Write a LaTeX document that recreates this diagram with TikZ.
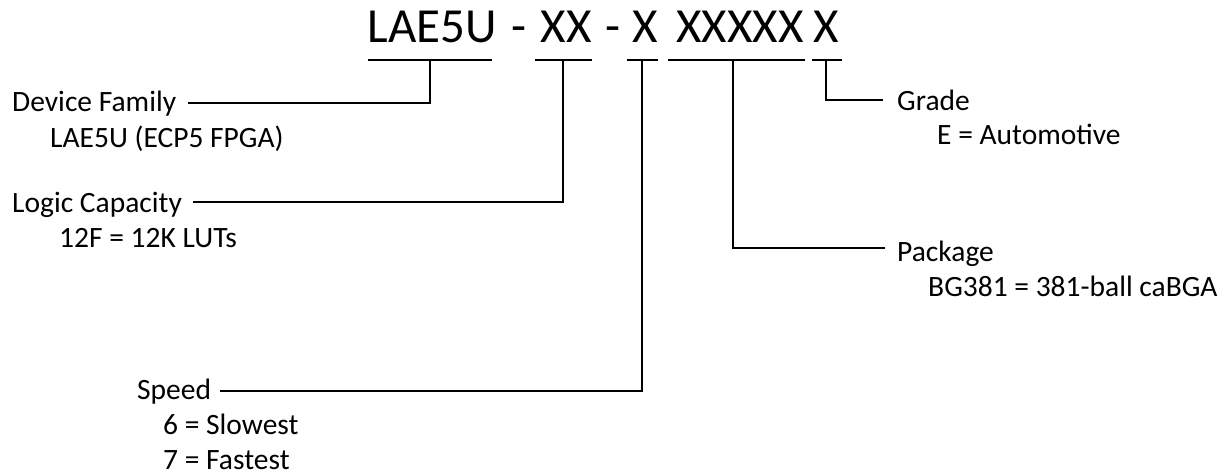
\documentclass[tikz,border=0pt]{standalone}
\usepackage{fontspec}
\setmainfont{Carlito}
\begin{document}
\begin{tikzpicture}[x=1pt,y=-1pt,
  lbl/.style={anchor=base west, inner sep=0pt, font=\fontsize{29.5}{35}\selectfont},
  ttl/.style={anchor=base, inner sep=0pt, font=\fontsize{49}{58}\selectfont},
  ln/.style={line width=2.5pt, line cap=butt}]
\useasboundingbox (0,0) rectangle (1227,475);
% title segments
\node[ttl] (t1) at (432.5,42) {LAE5U};
\node[ttl] (d1) at (519,42) {-};
\node[ttl] (t2) at (566,42) {XX};
\node[ttl] (d2) at (612.5,42) {-};
\node[ttl] (t3) at (645,42) {X};
\node[ttl] (t4) at (740,42) {XXXXX};
\node[ttl] (t5) at (826,42) {X};
% underlines
\coordinate (u1a) at (368,60); \coordinate (u1b) at (492,60); \coordinate (u1m) at (430,60);
\coordinate (u2a) at (535,60); \coordinate (u2b) at (592,60); \coordinate (u2m) at (563,60);
\coordinate (u3a) at (627,60); \coordinate (u3b) at (658,60); \coordinate (u3m) at (642,60);
\coordinate (u4a) at (668,60); \coordinate (u4b) at (805,60); \coordinate (u4m) at (733,60);
\coordinate (u5a) at (812,60); \coordinate (u5b) at (842,60); \coordinate (u5m) at (826,60);
\draw[ln] (u1a) -- (u1b);
\draw[ln] (u2a) -- (u2b);
\draw[ln] (u3a) -- (u3b);
\draw[ln] (u4a) -- (u4b);
\draw[ln] (u5a) -- (u5b);
% labels
\node[lbl] (fam)  at (12,111) {Device Family};
\node[lbl] (fam2) at (50,147) {LAE5U (ECP5 FPGA)};
\node[lbl] (cap)  at (12,212) {Logic Capacity};
\node[lbl] (cap2) at (59,247) {12F = 12K LUTs};
\node[lbl] (spd)  at (137,399) {Speed};
\node[lbl] (spd2) at (163,434) {6 = Slowest};
\node[lbl] (spd3) at (163,469) {7 = Fastest};
\node[lbl] (grd)  at (897,110) {Grade};
\node[lbl] (grd2) at (937,144) {E = Automotive};
\node[lbl] (pkg)  at (897,261) {Package};
\node[lbl] (pkg2) at (928,296) {BG381 = 381-ball caBGA};
% connector ends
\coordinate (cfam) at (188,103);
\coordinate (ccap) at (193,202);
\coordinate (cspd) at (220,391);
\coordinate (cgrd) at (883,100);
\coordinate (cpkg) at (885,248);
\draw[ln] (u1m) |- (cfam);
\draw[ln] (u2m) |- (ccap);
\draw[ln] (u3m) |- (cspd);
\draw[ln] (u4m) |- (cpkg);
\draw[ln] (u5m) |- (cgrd);
\end{tikzpicture}
\end{document}
